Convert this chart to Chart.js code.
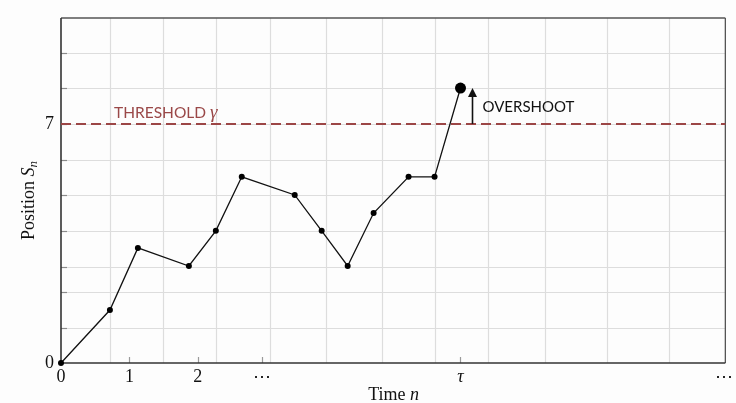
<!DOCTYPE html>
<html>
<head>
<meta charset="utf-8">
<script src="https://cdn.jsdelivr.net/npm/chart.js@4/dist/chart.umd.min.js"></script>
<style>
  html, body { margin: 0; padding: 0; background: #fdfdfd; }
  #wrap { width: 736px; height: 403px; }
</style>
</head>
<body>
<div id="wrap"><canvas id="c" width="736" height="403"></canvas></div>
<script>
// Random-walk path S_n observed at irregular times n
const timeN     = [0, 0.715, 1.124, 1.869, 2.263, 2.642, 3.416, 3.810, 4.190, 4.569, 5.080, 5.460, 5.839];
const positionS = [0, 1.55, 3.37, 2.84, 3.87, 5.45, 4.92, 3.87, 2.84, 4.39, 5.45, 5.45, 8.05];

// Axis extents and the threshold level
const X_MAX = 9.71;
const Y_MAX = 10.1;
const THRESHOLD = 7;

// Tick labels on the time axis (τ is the stopping time = last observed step)
const xTickPos    = [0, 1, 2, 2.934, 5.839, 9.69];
const xTickLabels = ['0', '1', '2', '\u22EF', '\u03C4', '\u22EF'];
const yTickPos    = [0, 7];
const yTickLabels = ['0', '7'];

// Background grid positions
const gridX = [0.715, 1.489, 2.263, 3.051, 3.869, 4.686, 5.460, 6.248, 7.080, 7.985, 8.891];
const gridY = [1.03, 2.08, 2.81, 3.87, 4.92, 5.95, 7.0, 8.05, 9.08];

const SERIF = "'Liberation Serif', 'DejaVu Serif', serif";
const SANS  = "Lato, 'Open Sans', sans-serif";

const points = timeN.map((t, i) => ({ x: t, y: positionS[i] }));
const lastIdx = points.length - 1;

function seg(ctx, x1, y1, x2, y2) {
  ctx.beginPath(); ctx.moveTo(x1, y1); ctx.lineTo(x2, y2); ctx.stroke();
}

const decor = {
  id: 'decor',
  beforeDatasetsDraw(chart) {
    const { ctx, chartArea: a, scales: { x, y } } = chart;
    ctx.save();
    // grid
    ctx.strokeStyle = '#dddddd';
    ctx.lineWidth = 1.2;
    gridX.forEach(v => { const p = Math.round(x.getPixelForValue(v)) + 0.5; seg(ctx, p, a.top, p, a.bottom); });
    gridY.forEach(v => { const p = Math.round(y.getPixelForValue(v)) + 0.5; seg(ctx, a.left, p, a.right, p); });
    // inner tick marks on the position axis
    ctx.strokeStyle = '#8a8a8a';
    ctx.lineWidth = 1.2;
    gridY.forEach(v => { const p = Math.round(y.getPixelForValue(v)) + 0.5; seg(ctx, a.left, p, a.left + 6, p); });
    // inner tick marks on the time axis
    ctx.strokeStyle = '#9a9a9a';
    xTickPos.slice(1, -1).forEach(v => { const p = Math.round(x.getPixelForValue(v)) + 0.5; seg(ctx, p, a.bottom, p, a.bottom - 6); });
    // frame
    ctx.strokeStyle = '#555';
    ctx.lineWidth = 1.3;
    seg(ctx, a.left, a.top, a.right, a.top);
    seg(ctx, a.right, a.top, a.right, a.bottom);
    ctx.strokeStyle = '#333';
    ctx.lineWidth = 1.6;
    seg(ctx, a.left, a.top, a.left, a.bottom);
    seg(ctx, a.left, a.bottom, a.right, a.bottom);
    // threshold line
    const ty = y.getPixelForValue(THRESHOLD);
    ctx.strokeStyle = '#9c4646';
    ctx.lineWidth = 2;
    ctx.setLineDash([10, 5]);
    seg(ctx, a.left, ty, a.right, ty);
    ctx.setLineDash([]);
    // threshold label
    ctx.fillStyle = '#9a4848';
    ctx.textBaseline = 'alphabetic';
    ctx.textAlign = 'left';
    ctx.font = "15.5px " + SANS;
    const lx = a.left + 53;
    ctx.fillText('THRESHOLD', lx, ty - 6);
    const w = ctx.measureText('THRESHOLD ').width;
    ctx.font = "italic 19px " + SERIF;
    ctx.fillText('\u03B3', lx + w, ty - 6);
    ctx.restore();
  },
  afterDatasetsDraw(chart) {
    const { ctx, chartArea: a, scales: { x, y } } = chart;
    ctx.save();
    // overshoot arrow from threshold up to the final level
    const ax = x.getPixelForValue(timeN[lastIdx]) + 12;
    const y0 = y.getPixelForValue(THRESHOLD);
    const y1 = y.getPixelForValue(positionS[lastIdx]);
    ctx.strokeStyle = '#111';
    ctx.fillStyle = '#111';
    ctx.lineWidth = 1.6;
    seg(ctx, ax, y0, ax, y1 + 7);
    ctx.beginPath();
    ctx.moveTo(ax, y1);
    ctx.lineTo(ax - 4.5, y1 + 9);
    ctx.lineTo(ax + 4.5, y1 + 9);
    ctx.closePath();
    ctx.fill();
    ctx.font = "15px " + SANS;
    ctx.textBaseline = 'middle';
    ctx.textAlign = 'left';
    ctx.fillText('OVERSHOOT', ax + 10, (y0 + y1) / 2 + 1);

    // axis titles
    ctx.fillStyle = '#111';
    ctx.textBaseline = 'alphabetic';
    // x title: "Time n"
    ctx.font = "18px " + SERIF;
    const t1 = 'Time ';
    const w1 = ctx.measureText(t1).width;
    ctx.font = "italic 18px " + SERIF;
    const w2 = ctx.measureText('n').width;
    const cx = (a.left + a.right) / 2 + 0.5;
    let sx = cx - (w1 + w2) / 2;
    ctx.font = "18px " + SERIF;
    ctx.fillText(t1, sx, 400);
    ctx.font = "italic 18px " + SERIF;
    ctx.fillText('n', sx + w1, 400);

    // y title: "Position S_n"
    ctx.translate(34, (a.top + a.bottom) / 2 + 10);
    ctx.rotate(-Math.PI / 2);
    ctx.font = "18px " + SERIF;
    const p1 = 'Position ';
    const pw1 = ctx.measureText(p1).width;
    ctx.font = "italic 18px " + SERIF;
    const pw2 = ctx.measureText('S').width;
    ctx.font = "italic 13px " + SERIF;
    const pw3 = ctx.measureText('n').width;
    const tot = pw1 + pw2 + pw3;
    let px = -tot / 2;
    ctx.font = "18px " + SERIF;
    ctx.fillText(p1, px, 0);
    ctx.font = "italic 18px " + SERIF;
    ctx.fillText('S', px + pw1, 0);
    ctx.font = "italic 13px " + SERIF;
    ctx.fillText('n', px + pw1 + pw2, 3);
    ctx.restore();
  }
};

new Chart(document.getElementById('c'), {
  type: 'scatter',
  data: {
    datasets: [{
      data: points,
      showLine: true,
      clip: false,
      borderColor: '#111',
      borderWidth: 1.3,
      backgroundColor: '#000',
      pointBorderWidth: 0,
      pointRadius: points.map((p, i) => i === lastIdx ? 5.5 : 3),
      pointHoverRadius: 0,
      tension: 0
    }]
  },
  options: {
    responsive: false,
    animation: false,
    events: [],
    layout: { padding: { left: 0, right: 10, top: 18, bottom: 0 } },
    plugins: { legend: { display: false }, tooltip: { enabled: false } },
    scales: {
      x: {
        type: 'linear',
        min: 0, max: X_MAX,
        afterBuildTicks: s => { s.ticks = xTickPos.map(v => ({ value: v })); },
        afterFit: s => { s.height = 40; },
        grid: { display: false, drawTicks: false },
        border: { display: false },
        ticks: {
          padding: 3,
          autoSkip: false,
          maxRotation: 0,
          color: '#111',
          font: ctx => ({ family: SERIF, size: 18, style: (ctx.index === 4 ? 'italic' : 'normal') }),
          callback: (v, i) => xTickLabels[i]
        }
      },
      y: {
        type: 'linear',
        min: 0, max: Y_MAX,
        afterBuildTicks: s => { s.ticks = yTickPos.map(v => ({ value: v })); },
        afterFit: s => { s.width = 61; },
        grid: { display: false, drawTicks: false },
        border: { display: false },
        ticks: {
          padding: 7,
          color: '#111',
          font: { family: SERIF, size: 18 },
          callback: (v, i) => yTickLabels[i]
        }
      }
    }
  },
  plugins: [decor]
});
</script>
</body>
</html>
